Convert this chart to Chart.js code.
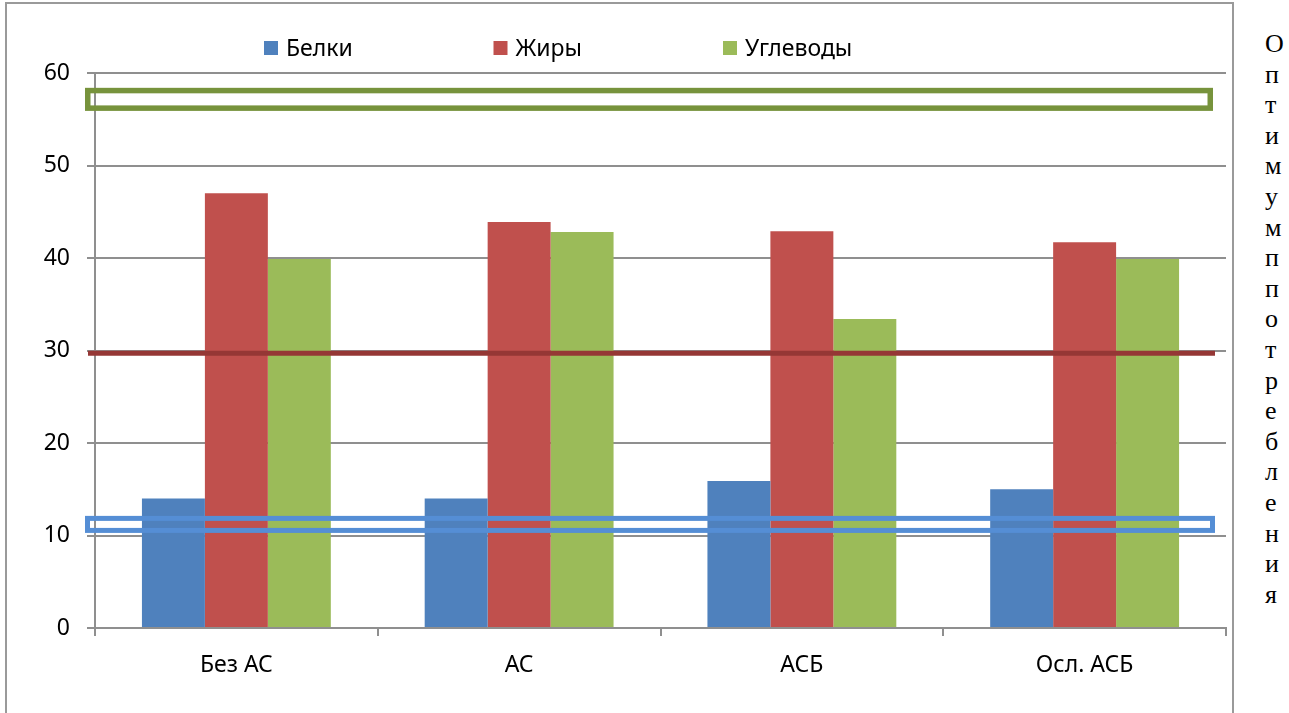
<!DOCTYPE html>
<html lang="ru">
<head>
<meta charset="utf-8">
<title>Белки, жиры, углеводы</title>
<script src="https://cdn.jsdelivr.net/npm/chart.js@4.4.1/dist/chart.umd.min.js"></script>
<style>
  html, body { margin: 0; padding: 0; background: #fff; width: 1289px; height: 713px; overflow: hidden; }
  .frame { position: absolute; left: 5px; top: 2px; width: 1225px; height: 760px; border: 2px solid #9a9a9a; }
  #chart { position: absolute; left: 7px; top: 4px; }
  .side { position: absolute; left: 1265px; top: 29px; font-family: "Liberation Serif", "Times New Roman", serif;
          font-size: 26px; line-height: 30.6px; color: #000; }
</style>
</head>
<body>
<div class="frame"></div>
<canvas id="chart" width="1225" height="709"></canvas>
<div class="side" id="side"></div>
<script>
// categories and series
const categories = ['Без АС', 'АС', 'АСБ', 'Осл. АСБ'];
const seriesNames = ['Белки', 'Жиры', 'Углеводы'];
const proteins = [14, 14, 15.9, 15];
const fats = [47, 43.9, 42.9, 41.7];
const carbs = [39.9, 42.8, 33.4, 39.9];
const yTicks = [0, 10, 20, 30, 40, 50, 60];

// recommended intake ranges, in percent
const carbsOptimum = [56.2, 58.1];
const fatsOptimum = 29.7;
const proteinsOptimum = [10.55, 11.85];

const sideTitle = 'Оптимумппотребления';

const FONT = '"Noto Sans", "Open Sans", sans-serif';
const GRID = '#8f8f8f';

// vertical caption, one letter per line
document.getElementById('side').innerHTML =
  Array.from(sideTitle).map(c => '<div>' + c + '</div>').join('');

// outlined ranges and the fat line drawn over the bars
const optimumPlugin = {
  id: 'optimum',
  afterDatasetsDraw(chart) {
    const { ctx, chartArea: a, scales: { y } } = chart;
    ctx.save();
    // carbohydrates range
    ctx.strokeStyle = '#77933C';
    ctx.lineWidth = 5.5;
    let t = y.getPixelForValue(carbsOptimum[1]);
    let b = y.getPixelForValue(carbsOptimum[0]);
    ctx.strokeRect(a.left - 7.25, t, (a.right - 15.75) - (a.left - 7.25), b - t);
    // fats line
    ctx.strokeStyle = '#953735';
    ctx.lineWidth = 5;
    const fy = y.getPixelForValue(fatsOptimum);
    ctx.beginPath();
    ctx.moveTo(a.left - 7, fy);
    ctx.lineTo(a.right - 11, fy);
    ctx.stroke();
    // proteins range
    ctx.strokeStyle = '#558ED5';
    ctx.lineWidth = 5;
    t = y.getPixelForValue(proteinsOptimum[1]);
    b = y.getPixelForValue(proteinsOptimum[0]);
    ctx.strokeRect(a.left - 7.5, t, (a.right - 13.5) - (a.left - 7.5), b - t);
    ctx.restore();
  }
};

// legend row with evenly spaced entries
const legendPlugin = {
  id: 'topLegend',
  afterDraw(chart) {
    const ctx = chart.ctx;
    const startX = chart.chartArea.left + 169;
    const cy = 44, step = 229.5, box = 14;
    ctx.save();
    ctx.font = '23px ' + FONT;
    ctx.textBaseline = 'middle';
    ctx.textAlign = 'left';
    chart.data.datasets.forEach((ds, i) => {
      const x = startX + i * step;
      ctx.fillStyle = ds.backgroundColor;
      ctx.fillRect(x, cy - box / 2, box, box);
      ctx.fillStyle = '#000';
      ctx.fillText(ds.label, x + 22, cy + 1);
    });
    ctx.restore();
  }
};

new Chart(document.getElementById('chart'), {
  type: 'bar',
  data: {
    labels: categories,
    datasets: [
      { label: seriesNames[0], data: proteins, backgroundColor: '#4F81BD' },
      { label: seriesNames[1], data: fats, backgroundColor: '#C0504D' },
      { label: seriesNames[2], data: carbs, backgroundColor: '#9BBB59' }
    ]
  },
  options: {
    responsive: false,
    animation: false,
    devicePixelRatio: 1,
    layout: { padding: { top: 69, right: 6, bottom: 0, left: 0 } },
    datasets: { bar: { categoryPercentage: 0.668, barPercentage: 1.0, borderWidth: 0 } },
    plugins: { legend: { display: false }, tooltip: { enabled: false } },
    scales: {
      x: {
        offset: true,
        grid: { offset: true, drawOnChartArea: false, drawTicks: true, tickLength: 8, color: GRID, lineWidth: 2 },
        border: { display: true, color: GRID, width: 2 },
        ticks: { padding: 16, color: '#000', font: { family: FONT, size: 23 } },
        afterFit(s) { s.height = 85; }
      },
      y: {
        min: 0,
        max: 60,
        afterBuildTicks(s) { s.ticks = yTicks.map(v => ({ value: v })); },
        grid: { color: GRID, lineWidth: 2, tickLength: 8 },
        border: { display: true, color: GRID, width: 2 },
        ticks: { padding: 17, color: '#000', font: { family: FONT, size: 23 } },
        afterFit(s) { s.width = 88; }
      }
    }
  },
  plugins: [optimumPlugin, legendPlugin]
});
</script>
</body>
</html>
